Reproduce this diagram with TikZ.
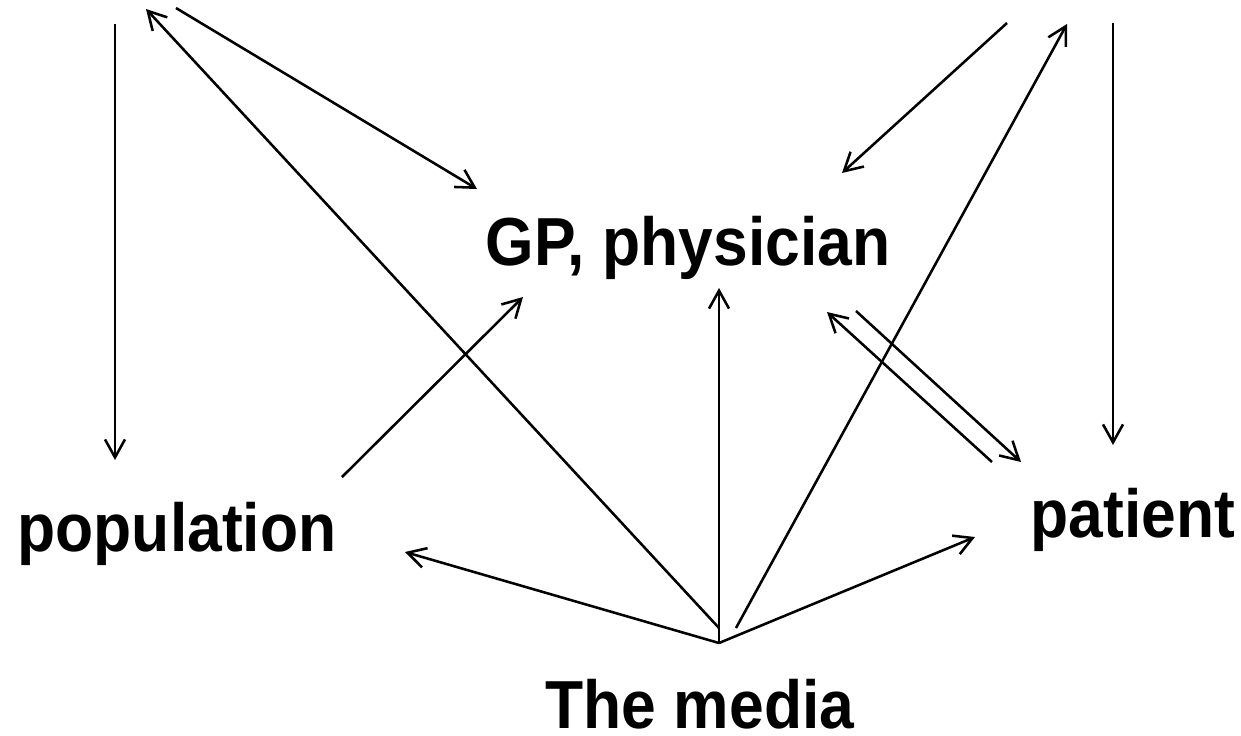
\documentclass[tikz,border=0pt]{standalone}
\usepackage{fontspec}
\setmainfont{Liberation Sans}
\usetikzlibrary{arrows.meta}
\newcommand{\tallword}[1]{\scalebox{1}[1.09]{#1}}

\begin{document}
\begin{tikzpicture}[x=0.02cm,y=-0.02cm,line width=1.45pt,
    >={Straight Barb[length=3.6mm,width=4mm]},
    actor/.style={font=\fontsize{35.5}{40}\selectfont\bfseries,anchor=base,inner sep=0pt}]

      \useasboundingbox (0,0) rectangle (1241,735); % page frame

      \node[actor] (gp) at (688,265) {\tallword{GP, physician}};
      \node[actor] (population) at (177,551) {\tallword{population}};
      \node[actor] (patient) at (1133,537) {\tallword{patient}};
      \node[actor] (media) at (700,728) {\tallword{The media}};

      % arrow ends (the two top ones lie outside the page)
      \coordinate (lTop) at (115,24);     \coordinate (lBot) at (115,460);
      \coordinate (rTop) at (1113,23);    \coordinate (rBot) at (1113,445);
      \coordinate (tlHead) at (146,9);    \coordinate (tlStart) at (176,8);
      \coordinate (trHead) at (1067,24);  \coordinate (trStart) at (1007,23);
      \coordinate (gpNW) at (477,189);    \coordinate (gpNE) at (842,173);
      \coordinate (gpSW) at (523,297);    \coordinate (gpS) at (719,288);
      \coordinate (gpSE1) at (827,312);   \coordinate (gpSE2) at (856,311);
      \coordinate (popNE) at (342,477);   \coordinate (popE) at (405,552);
      \coordinate (patW) at (975,537);
      \coordinate (patNW1) at (992,462);  \coordinate (patNW2) at (1021,462);
      \coordinate (mApex) at (719,643);
      \coordinate (mL) at (719,628);      \coordinate (mR) at (736,628);

      \foreach \from/\to in {lTop/lBot,rTop/rBot,tlStart/gpNW,trStart/gpNE,
                             mL/tlHead,mR/trHead,mApex/gpS,mApex/popE,mApex/patW,
                             popNE/gpSW,patNW1/gpSE1,gpSE2/patNW2}
      \draw[->] (\from) -- (\to);

    \end{tikzpicture}
\end{document}
